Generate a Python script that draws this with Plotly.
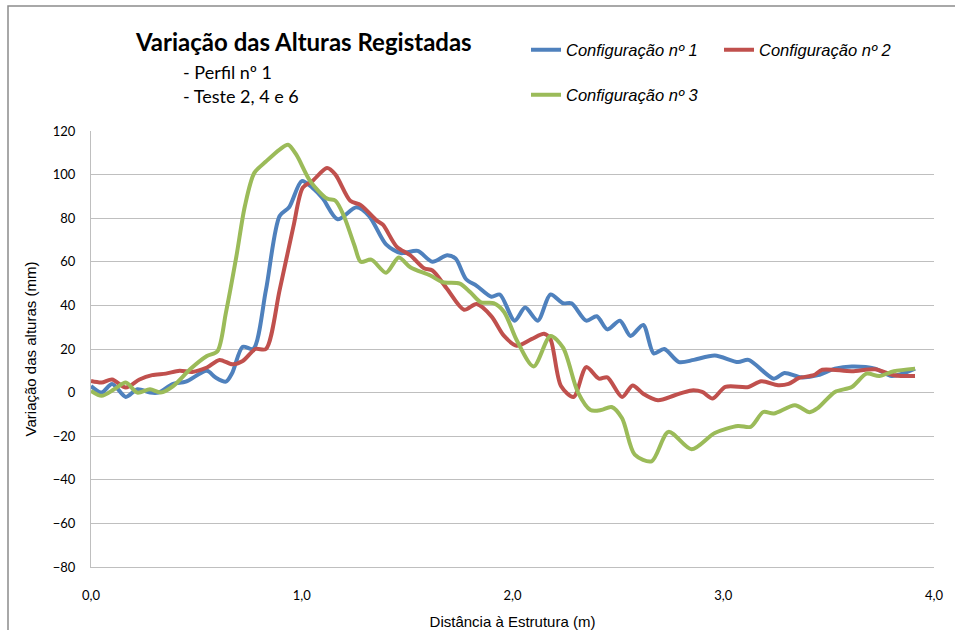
import plotly.graph_objects as go

# Distância à estrutura (m) e variação das alturas (mm) para cada configuração
x_conf1 = [0.00, 0.05, 0.10, 0.165, 0.22, 0.28, 0.32, 0.39, 0.45, 0.55, 0.59, 0.64, 0.67,
           0.72, 0.77, 0.83, 0.895, 0.94, 1.00, 1.05, 1.10, 1.17, 1.26, 1.32, 1.40, 1.47,
           1.55, 1.62, 1.69, 1.73, 1.78, 1.83, 1.90, 1.94, 2.01, 2.06, 2.12, 2.18, 2.24,
           2.28, 2.35, 2.40, 2.45, 2.51, 2.56, 2.62, 2.67, 2.72, 2.79, 2.86, 2.96, 3.07,
           3.12, 3.24, 3.29, 3.37, 3.45, 3.53, 3.61, 3.72, 3.80, 3.91]
y_conf1 = [3, 0, 4, -2, 1.5, 0, 0, 4, 5, 10, 7, 5, 9,
           21, 20, 47, 81, 85, 97, 94, 89, 79.5, 85, 81, 68, 64,
           65, 60, 63, 61.5, 52, 49, 44, 45, 33, 39, 33, 45, 41,
           41, 33, 35, 29, 33, 26, 31, 18, 20, 14, 15, 17, 14,
           15, 6.4, 9, 7, 8, 11, 12, 11, 7.6, 11]

x_conf2 = [0.00, 0.05, 0.10, 0.165, 0.23, 0.29, 0.355, 0.42, 0.48, 0.55, 0.61, 0.67, 0.72,
           0.78, 0.83, 0.895, 0.96, 1.005, 1.05, 1.12, 1.16, 1.23, 1.28, 1.355, 1.385,
           1.45, 1.515, 1.58, 1.62, 1.69, 1.77, 1.83, 1.90, 1.96, 2.02, 2.09, 2.15, 2.18,
           2.23, 2.29, 2.35, 2.41, 2.45, 2.52, 2.57, 2.62, 2.69, 2.77, 2.85, 2.90, 2.95,
           3.01, 3.12, 3.18, 3.26, 3.31, 3.36, 3.43, 3.47, 3.61, 3.72, 3.81, 3.91]
y_conf2 = [5.3, 4.6, 6, 2.3, 6, 8, 8.7, 10, 9.5, 11.5, 15, 13, 14.5,
           20, 20, 47, 76, 94, 97, 103, 100, 88, 86, 79, 77,
           67, 63, 57, 56, 47.5, 38, 40.6, 35, 26, 21.5, 24.5, 27, 24.5,
           3, -2, 11.7, 6.4, 7, -2, 3.3, -0.5, -3.5, -1.2, 1, 0.3, -2.7,
           2.6, 2.6, 5.2, 3.4, 4, 6.7, 8, 10.5, 9.8, 10.7, 8, 7.6]

x_conf3 = [0.00, 0.05, 0.11, 0.165, 0.22, 0.28, 0.33, 0.39, 0.47, 0.55, 0.60, 0.64, 0.69,
           0.73, 0.775, 0.83, 0.895, 0.935, 0.975, 1.04, 1.12, 1.16, 1.20, 1.25, 1.28,
           1.33, 1.40, 1.46, 1.515, 1.61, 1.67, 1.75, 1.80, 1.85, 1.91, 1.96, 2.02, 2.10,
           2.18, 2.24, 2.31, 2.37, 2.42, 2.47, 2.52, 2.58, 2.66, 2.74, 2.85, 2.96, 3.07,
           3.13, 3.19, 3.24, 3.34, 3.41, 3.45, 3.53, 3.61, 3.68, 3.74, 3.81, 3.91]
y_conf3 = [0.8, -1.5, 1.5, 4.6, 0, 1.5, 0, 3, 10.7, 16.8, 19, 36.6, 62.6,
           85.5, 100.8, 106, 111.5, 113.7, 109, 97, 89, 88, 81, 67.5, 60,
           61, 55, 62, 57.5, 53.7, 50.6, 50, 46, 41.4, 41, 37, 24, 12,
           26, 20.6, 0.2, -8, -8, -6.6, -11.8, -28.5, -31.5, -18, -26, -18.5, -15.3,
           -15.7, -8.9, -9.6, -5.8, -9, -7, 0.3, 2.6, 8.7, 7.6, 9.8, 11]

x_ticks = [0, 1, 2, 3, 4]
x_tick_labels = ["0,0", "1,0", "2,0", "3,0", "4,0"]
y_ticks = [-80, -60, -40, -20, 0, 20, 40, 60, 80, 100, 120]

W, H = 955, 630
L, R, T, B = 91, 21, 131, 63

fig = go.Figure()

series = [
    ("Configuração nº 1", x_conf1, y_conf1, "#4F81BD", "legend"),
    ("Configuração nº 2", x_conf2, y_conf2, "#C0504D", "legend"),
    ("Configuração nº 3", x_conf3, y_conf3, "#9BBB59", "legend2"),
]
for name, xs, ys, colour, leg in series:
    fig.add_trace(go.Scatter(
        x=xs, y=ys, name=name, mode="lines",
        line=dict(color=colour, width=4, shape="spline", smoothing=0.8),
        legend=leg,
    ))

legend_font = dict(family="Liberation Sans, Arial", size=16.5, style="italic",
                   color="#000000")


def paper_x(px):
    return (px - L) / (W - L - R)


def paper_y(py):
    return (H - B - py) / (H - T - B)


fig.update_layout(
    width=W, height=H,
    margin=dict(l=L, r=R, t=T, b=B),
    paper_bgcolor="white", plot_bgcolor="white",
    title=dict(
        text="<b>Variação das Alturas Registadas</b>",
        font=dict(family="Lato, sans-serif", size=24, color="#000000"),
        xref="container", yref="container",
        x=136 / W, xanchor="left", y=1 - 43 / H, yanchor="middle",
    ),
    legend=dict(
        orientation="h", x=paper_x(526), xanchor="left",
        y=paper_y(50), yanchor="middle",
        font=legend_font, entrywidth=148, itemwidth=30,
        bgcolor="rgba(0,0,0,0)",
    ),
    legend2=dict(
        orientation="h", x=paper_x(526), xanchor="left",
        y=paper_y(95), yanchor="middle",
        font=legend_font, itemwidth=30,
        bgcolor="rgba(0,0,0,0)",
    ),
    showlegend=True,
)

fig.update_xaxes(
    range=[0, 4], tickvals=x_ticks, ticktext=x_tick_labels,
    showgrid=False, zeroline=False, automargin=False,
    showline=True, linecolor="#BFBFBF", linewidth=1,
    ticks="", ticklabelstandoff=16,
    tickfont=dict(family="Lato, sans-serif", size=13, color="#000000"),
    title=dict(text="Distância à Estrutura (m)", standoff=14,
               font=dict(family="Liberation Sans, Arial", size=15, color="#000000")),
)
fig.update_yaxes(
    range=[-80, 120], tickvals=y_ticks,
    showgrid=True, gridcolor="#BFBFBF", gridwidth=1, zeroline=False, automargin=False,
    showline=True, linecolor="#BFBFBF", linewidth=1,
    ticks="", ticklabelstandoff=12,
    tickfont=dict(family="Lato, sans-serif", size=13, color="#000000"),
    title=dict(text="Variação das alturas (mm)", standoff=12,
               font=dict(family="Liberation Sans, Arial", size=15, color="#000000")),
)

# subtítulos
for text, py in [("- Perfil nº 1", 72), ("- Teste 2, 4 e 6", 96)]:
    fig.add_annotation(
        text=text, xref="paper", yref="paper",
        x=paper_x(181), y=paper_y(py), xanchor="left", yanchor="middle",
        showarrow=False,
        font=dict(family="Lato, sans-serif", size=18, color="#000000"),
    )

# moldura da área do gráfico
fig.add_shape(
    type="rect", xref="paper", yref="paper",
    x0=paper_x(8), y0=paper_y(640), x1=paper_x(965), y1=paper_y(6),
    line=dict(color="#8C8C8C", width=1.5), layer="below",
)

fig.write_html("out.html", config={"displayModeBar": False},
               post_script="document.body.style.margin='0';")
